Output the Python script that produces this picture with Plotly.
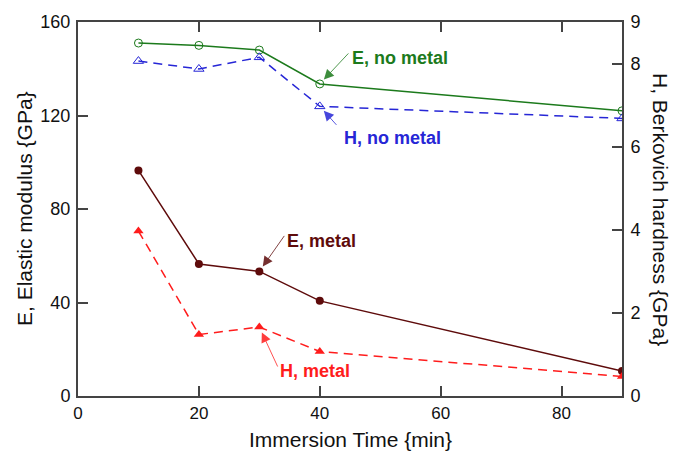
import plotly.graph_objects as go

time_min = [10, 20, 30, 40, 90]
E_no_metal = [151.0, 150.0, 148.0, 133.5, 122.0]
H_no_metal = [8.06, 7.87, 8.15, 6.97, 6.68]
E_metal = [96.5, 56.5, 53.3, 40.7, 10.7]
H_metal = [3.97, 1.48, 1.66, 1.07, 0.47]

x_ticks = [0, 20, 40, 60, 80]
yE_ticks = [0, 40, 80, 120, 160]
yH_ticks = [0, 2, 4, 6, 8, 9]

GREEN = "#1c7a1c"
BLUE = "#2626d6"
MAROON = "#5e0b0b"
RED = "#ff1c1c"
AX = "#444444"
FONT = "Liberation Sans, Arial, sans-serif"

fig = go.Figure()
fig.add_trace(go.Scatter(x=time_min, y=E_no_metal, mode="lines+markers", yaxis="y",
                         line=dict(color=GREEN, width=1.5),
                         marker=dict(symbol="circle-open", size=8, color=GREEN, line=dict(width=1))))
fig.add_trace(go.Scatter(x=time_min, y=H_no_metal, mode="lines+markers", yaxis="y2",
                         line=dict(color=BLUE, width=1.5, dash="9px,6px"),
                         marker=dict(symbol="triangle-up-open", size=9, color=BLUE, line=dict(width=1))))
fig.add_trace(go.Scatter(x=time_min, y=E_metal, mode="lines+markers", yaxis="y",
                         line=dict(color=MAROON, width=1.5),
                         marker=dict(symbol="circle", size=8, color=MAROON)))
fig.add_trace(go.Scatter(x=time_min, y=H_metal, mode="lines+markers", yaxis="y2",
                         line=dict(color=RED, width=1.5, dash="9px,6px"),
                         marker=dict(symbol="triangle-up", size=9, color=RED)))

annotations = []
labels = [
    ("E, no metal", 45.0, 144.8, "y", GREEN),
    ("H, no metal", 43.6, 110.5 * 9 / 160, "y2", BLUE),
    ("E, metal", 34.3, 66.3, "y", MAROON),
    ("H, metal", 33.1, 10.9 * 9 / 160, "y2", RED),
]
for txt, lx, ly, yr, col in labels:
    annotations.append(dict(text="<b>%s</b>" % txt, x=lx, y=ly, xref="x", yref=yr,
                            xanchor="left", yanchor="middle", showarrow=False,
                            font=dict(family=FONT, size=18, color=col)))
arrows = [
    (time_min[3], E_no_metal[3], "y", 30, -32, GREEN),
    (time_min[3], H_no_metal[3], "y2", 18, 20, BLUE),
    (time_min[2], E_metal[2], "y", 26, -37, MAROON),
    (time_min[2], H_metal[2], "y2", 19, 41, RED),
]
for ax_x, ax_y, yr, dx, dy, col in arrows:
    annotations.append(dict(text="", x=ax_x, y=ax_y, xref="x", yref=yr,
                            ax=dx, ay=dy, axref="pixel", ayref="pixel",
                            showarrow=True, arrowhead=2, arrowsize=2.2, arrowwidth=0.9,
                            arrowcolor=col, standoff=6, opacity=0.85))
annotations.append(dict(text="E, Elastic modulus {GPa}", x=(24 - 78) / 544, y=0.5, xref="paper", yref="paper",
                        textangle=-90, showarrow=False, xanchor="center", yanchor="middle",
                        font=dict(family=FONT, size=21, color="#111")))
annotations.append(dict(text="H, Berkovich hardness {GPa}", x=(661 - 78) / 544, y=0.5, xref="paper", yref="paper",
                        textangle=90, showarrow=False, xanchor="center", yanchor="middle",
                        font=dict(family=FONT, size=21, color="#111")))
annotations.append(dict(text="Immersion Time {min}", x=0.5, y=(396 - 440) / 380, xref="paper", yref="paper",
                        showarrow=False, xanchor="center", yanchor="middle",
                        font=dict(family=FONT, size=21, color="#111")))

fig.update_layout(
    width=673, height=453,
    margin=dict(l=78, r=51, t=16, b=57),
    paper_bgcolor="white", plot_bgcolor="white",
    showlegend=False,
    font=dict(family=FONT, size=18, color="#111"),
    xaxis=dict(range=[0, 90], tickvals=x_ticks, ticks="inside", ticklen=10, tickwidth=1.5,
               tickcolor=AX, showline=True, linecolor=AX, linewidth=2, mirror="ticks",
               showgrid=False, zeroline=False, ticklabelstandoff=1,
               tickfont=dict(family=FONT, size=17, color="#111")),
    yaxis=dict(range=[0, 160], tickvals=yE_ticks, ticks="inside", ticklen=10, tickwidth=1.5,
               tickcolor=AX, showline=True, linecolor=AX, linewidth=2, mirror=False,
               showgrid=False, zeroline=False, ticklabelstandoff=2,
               tickfont=dict(family=FONT, size=18, color="#111")),
    yaxis2=dict(range=[0, 9], tickvals=yH_ticks, ticks="inside", ticklen=10, tickwidth=1.5,
                tickcolor=AX, showline=True, linecolor=AX, linewidth=2, overlaying="y", side="right",
                showgrid=False, zeroline=False, ticklabelstandoff=3,
                tickfont=dict(family=FONT, size=18, color="#111")),
    annotations=annotations,
)

fig.write_html("out.html")
